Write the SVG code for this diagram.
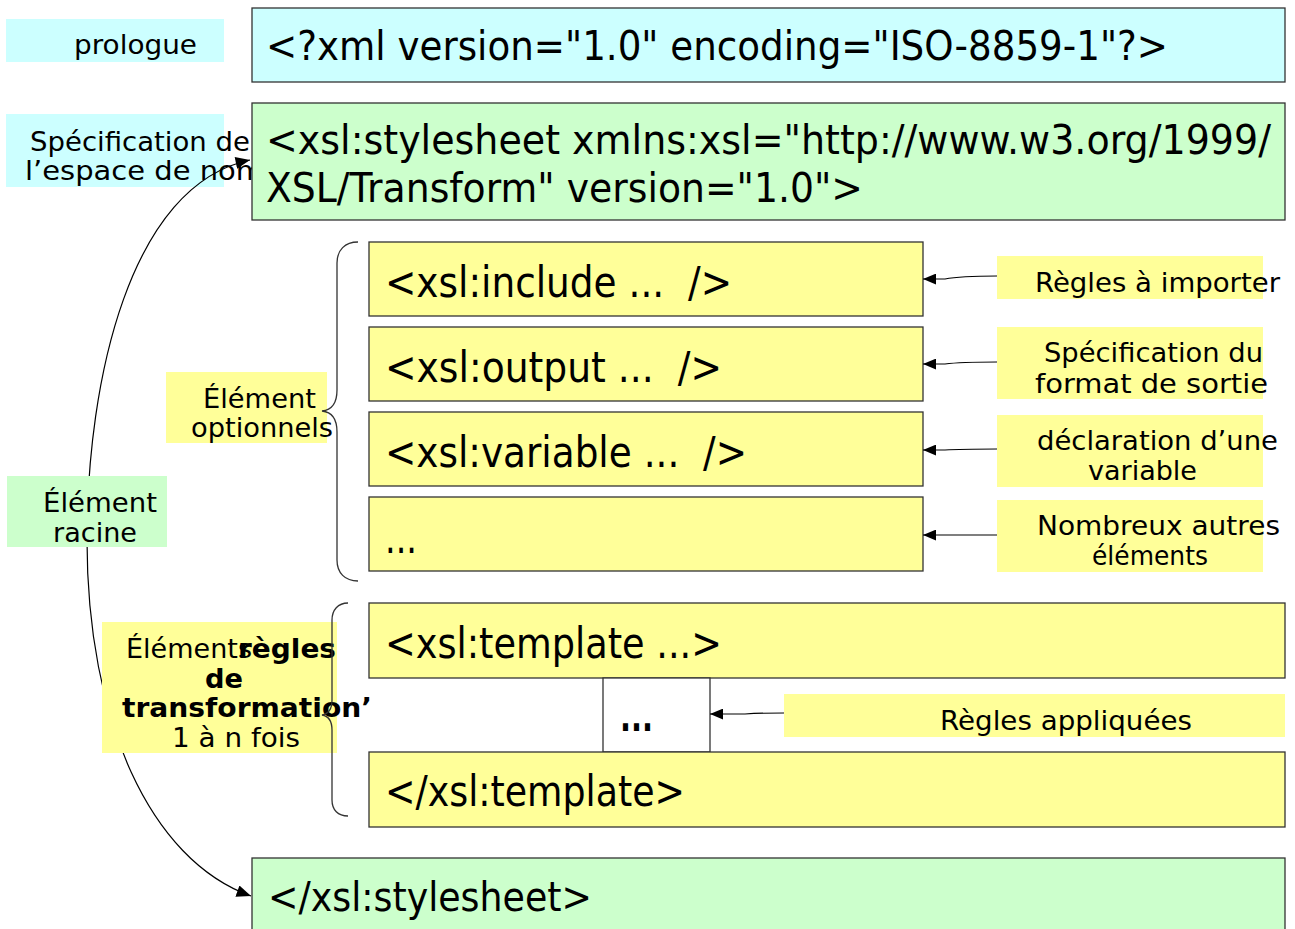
<svg xmlns="http://www.w3.org/2000/svg" width="1295" height="929" viewBox="0 0 1295 929">
<style>
.box{stroke:#333;stroke-width:1.3}
.cyan{fill:#ccffff}
.green{fill:#ccffcc}
.yellow{fill:#ffff99}
.white{fill:#ffffff}
text{font-family:"DejaVu Sans",Verdana,sans-serif;fill:#000}
.code{font-size:40px}
.code2{font-size:42px}
.lbl{font-size:27px}
.b{font-weight:bold}
.wire{fill:none;stroke:#000;stroke-width:1.2}
.brace{fill:none;stroke:#333;stroke-width:1.3}
</style>
<defs>
<marker id="ah" viewBox="0 0 12 10" refX="12" refY="5" markerWidth="13" markerHeight="11" markerUnits="userSpaceOnUse" orient="auto-start-reverse">
<path d="M0,0 L12,5 L0,10 z" fill="#000"/>
</marker>
<marker id="ahb" viewBox="0 0 12 10" refX="12" refY="5" markerWidth="15" markerHeight="12" markerUnits="userSpaceOnUse" orient="auto-start-reverse">
<path d="M0,0 L12,5 L0,10 z" fill="#000"/>
</marker>
</defs>
<rect width="1295" height="929" fill="#fff"/>

<g id="label-prologue">
<rect class="cyan" x="6" y="19" width="218" height="43"/>
<text class="lbl" x="74" y="54" textLength="123" lengthAdjust="spacingAndGlyphs">prologue</text>
</g>
<g id="label-namespace">
<rect class="cyan" x="6" y="114" width="218" height="73"/>
<text class="lbl" x="30" y="151" textLength="220" lengthAdjust="spacingAndGlyphs">Spécification de</text>
<text class="lbl" x="25" y="180" textLength="239" lengthAdjust="spacingAndGlyphs">l’espace de nom</text>
</g>

<g id="node-prologue">
<rect class="box cyan" x="252" y="8" width="1033" height="74"/>
<text class="code" x="266" y="60" textLength="902" lengthAdjust="spacingAndGlyphs">&lt;?xml version="1.0" encoding="ISO-8859-1"?&gt;</text>
</g>
<g id="node-stylesheet">
<rect class="box green" x="252" y="103" width="1033" height="117"/>
<text class="code" x="266" y="154" textLength="1005" lengthAdjust="spacingAndGlyphs">&lt;xsl:stylesheet xmlns:xsl="http://www.w3.org/1999/</text>
<text class="code" x="266" y="202" textLength="597" lengthAdjust="spacingAndGlyphs">XSL/Transform" version="1.0"&gt;</text>
</g>
<g id="node-include">
<rect class="box yellow" x="369" y="242" width="554" height="74"/>
<text class="code2" x="385" y="297" textLength="347" lengthAdjust="spacingAndGlyphs">&lt;xsl:include ...&#160; /&gt;</text>
</g>
<g id="node-output">
<rect class="box yellow" x="369" y="327" width="554" height="74"/>
<text class="code2" x="385" y="382" textLength="337" lengthAdjust="spacingAndGlyphs">&lt;xsl:output ...&#160; /&gt;</text>
</g>
<g id="node-variable">
<rect class="box yellow" x="369" y="412" width="554" height="74"/>
<text class="code2" x="385" y="467" textLength="362" lengthAdjust="spacingAndGlyphs">&lt;xsl:variable ...&#160; /&gt;</text>
</g>
<g id="node-others">
<rect class="box yellow" x="369" y="497" width="554" height="74"/>
<text class="code2" x="385" y="553" textLength="32" lengthAdjust="spacingAndGlyphs">...</text>
</g>
<g id="node-template">
<rect class="box yellow" x="369" y="603" width="916" height="75"/>
<text class="code2" x="385" y="658" textLength="337" lengthAdjust="spacingAndGlyphs">&lt;xsl:template ...&gt;</text>
</g>
<g id="node-rules">
<rect class="box white" x="603" y="678" width="107" height="74"/>
<text class="code b" x="620" y="731" textLength="33" lengthAdjust="spacingAndGlyphs">...</text>
</g>
<g id="node-endtemplate">
<rect class="box yellow" x="369" y="752" width="916" height="75"/>
<text class="code2" x="385" y="806" textLength="300" lengthAdjust="spacingAndGlyphs">&lt;/xsl:template&gt;</text>
</g>
<g id="node-endstylesheet">
<rect class="box green" x="252" y="858" width="1033" height="90"/>
<text class="code" x="268" y="911" textLength="324" lengthAdjust="spacingAndGlyphs">&lt;/xsl:stylesheet&gt;</text>
</g>

<g id="connectors">
<path class="wire" d="M250,160 C130,185 87,380 87,540 C87,720 150,860 251,896" marker-start="url(#ahb)" marker-end="url(#ahb)"/>
<path class="wire" d="M997,276 Q960,276 945,279 L923,279" marker-end="url(#ah)"/>
<path class="wire" d="M997,362 Q960,362 945,364 L923,364" marker-end="url(#ah)"/>
<path class="wire" d="M997,449 Q960,449 945,450 L923,450" marker-end="url(#ah)"/>
<path class="wire" d="M997,535 L923,535" marker-end="url(#ah)"/>
<path class="wire" d="M784,713 Q760,713 745,714 L710,714" marker-end="url(#ah)"/>
</g>

<g id="label-include">
<rect class="yellow" x="997" y="256" width="266" height="43"/>
<text class="lbl" x="1035" y="292" textLength="245" lengthAdjust="spacingAndGlyphs">Règles à importer</text>
</g>
<g id="label-output">
<rect class="yellow" x="997" y="327" width="266" height="72"/>
<text class="lbl" x="1044" y="362" textLength="219" lengthAdjust="spacingAndGlyphs">Spécification du</text>
<text class="lbl" x="1035" y="393" textLength="233" lengthAdjust="spacingAndGlyphs">format de sortie</text>
</g>
<g id="label-variable">
<rect class="yellow" x="997" y="415" width="266" height="72"/>
<text class="lbl" x="1037" y="450" textLength="241" lengthAdjust="spacingAndGlyphs">déclaration d’une</text>
<text class="lbl" x="1088" y="480" textLength="109" lengthAdjust="spacingAndGlyphs">variable</text>
</g>
<g id="label-others">
<rect class="yellow" x="997" y="500" width="266" height="72"/>
<text class="lbl" x="1037" y="535" textLength="243" lengthAdjust="spacingAndGlyphs">Nombreux autres</text>
<text class="lbl" x="1092" y="565" textLength="116" lengthAdjust="spacingAndGlyphs">éléments</text>
</g>
<g id="label-rules">
<rect class="yellow" x="784" y="694" width="501" height="43"/>
<text class="lbl" x="940" y="730" textLength="252" lengthAdjust="spacingAndGlyphs">Règles appliquées</text>
</g>
<g id="label-optional">
<rect class="yellow" x="166" y="372" width="161" height="71"/>
<text class="lbl" x="203" y="408" textLength="113" lengthAdjust="spacingAndGlyphs">Élément</text>
<text class="lbl" x="191" y="437" textLength="142" lengthAdjust="spacingAndGlyphs">optionnels</text>
</g>
<g id="label-root">
<rect class="green" x="7" y="476" width="160" height="71"/>
<text class="lbl" x="43" y="512" textLength="114" lengthAdjust="spacingAndGlyphs">Élément</text>
<text class="lbl" x="53" y="542" textLength="84" lengthAdjust="spacingAndGlyphs">racine</text>
</g>
<g id="label-templates">
<rect class="yellow" x="102" y="622" width="235" height="131"/>
<text class="lbl" x="126" y="658" textLength="126" lengthAdjust="spacingAndGlyphs">Éléments</text>
<text class="lbl b" x="238" y="658" textLength="98" lengthAdjust="spacingAndGlyphs">règles</text>
<text class="lbl b" x="205" y="688" textLength="38" lengthAdjust="spacingAndGlyphs">de</text>
<text class="lbl b" x="122" y="717" textLength="250" lengthAdjust="spacingAndGlyphs">transformation’</text>
<text class="lbl" x="172" y="747" textLength="128" lengthAdjust="spacingAndGlyphs">1 à n fois</text>
</g>

<g id="braces">
<path class="brace" d="M358,242 C345,242 337,250 337,263 L337,390 C337,403 332,410 322,411 C332,412 337,420 337,432 L337,560 C337,573 345,581 358,581"/>
<path class="brace" d="M348,603 C338,603 332,610 332,620 L332,700 C332,710 328,714 322,715 C328,716 332,720 332,730 L332,800 C332,810 338,816 348,816"/>
</g>
</svg>
